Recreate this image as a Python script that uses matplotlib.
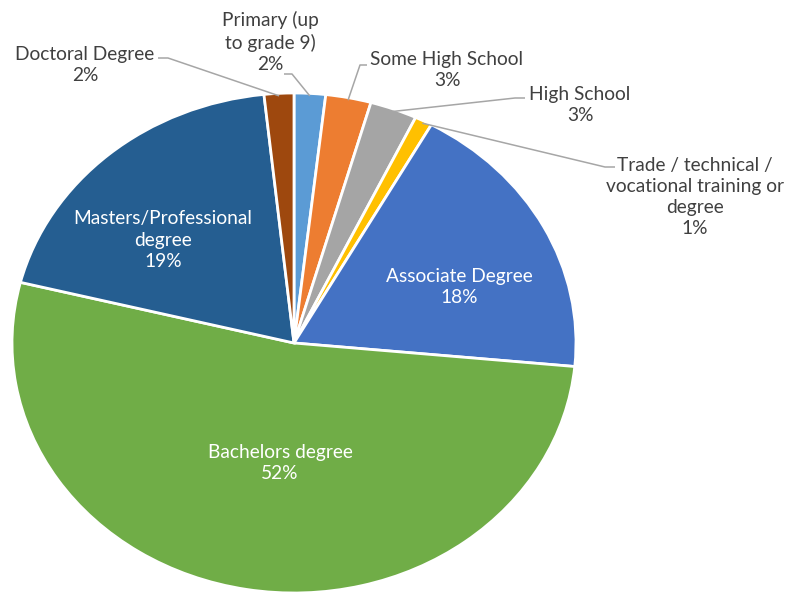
import numpy as np
import matplotlib
matplotlib.use("Agg")
import matplotlib.pyplot as plt

categories = ["Primary (up\nto grade 9)", "Some High School", "High School",
              "Trade / technical /\nvocational training or\ndegree",
              "Associate Degree", "Bachelors degree",
              "Masters/Professional\ndegree", "Doctoral Degree"]
shares = [1.8, 2.6, 2.7, 1.0, 18.4, 52.4, 19.4, 1.7]
colors = ["#5B9BD5", "#ED7D31", "#A5A5A5", "#FFC000",
          "#4472C4", "#70AD47", "#255E91", "#9E480E"]

# label layout (pixel space of the 789x592 canvas), inside labels are white
label_xy = [(270, 42), (447, 70), (580, 105), (695, 197),
            (459, 287), (280, 463), (163, 240), (85, 65)]
inside = [False, False, False, False, True, True, True, False]
# where the leader line leaves the text (pixel space), None for inside labels
leader_start = [(284, 74), (367, 65), (525, 98), (615, 167),
                None, None, None, (158, 58)]
leader_knee = [(292, 74), (360, 65), (515, 98), (605, 167),
               None, None, None, (168, 58)]

CX, CY, RX, RY = 294, 343, 282, 250
W, H = 789, 592

plt.rcParams["font.family"] = ["Lato", "DejaVu Sans"]


def px(x, y):
    return (x - CX) / RX, (CY - y) / RY


fig = plt.figure(figsize=(W / 100, H / 100), dpi=100)
ax = fig.add_axes([0, 0, 1, 1])
wedges, _ = ax.pie(shares, colors=colors, startangle=90, counterclock=False,
                   radius=1.0, wedgeprops=dict(edgecolor="white", linewidth=2))
ax.set_aspect("auto")
ax.set_xlim(-CX / RX, (W - CX) / RX)
ax.set_ylim((CY - H) / RY, CY / RY)
ax.axis("off")

total = sum(shares)
for i, w in enumerate(wedges):
    pct = f"{shares[i] / total * 100:.0f}%"
    lx, ly = px(*label_xy[i])
    col = "white" if inside[i] else "#404040"
    ax.text(lx, ly, f"{categories[i]}\n{pct}", ha="center", va="center",
            fontsize=13.8, color=col, linespacing=1.3)
    if leader_start[i] is not None:
        mid = np.deg2rad((w.theta1 + w.theta2) / 2)
        ex, ey = 0.99 * np.cos(mid), 0.99 * np.sin(mid)
        sx, sy = px(*leader_start[i])
        kx, ky = px(*leader_knee[i])
        ax.plot([sx, kx, ex], [sy, ky, ey], color="#A6A6A6", lw=1.1,
                solid_capstyle="butt")

fig.savefig("out.png", dpi=100, facecolor="white")
